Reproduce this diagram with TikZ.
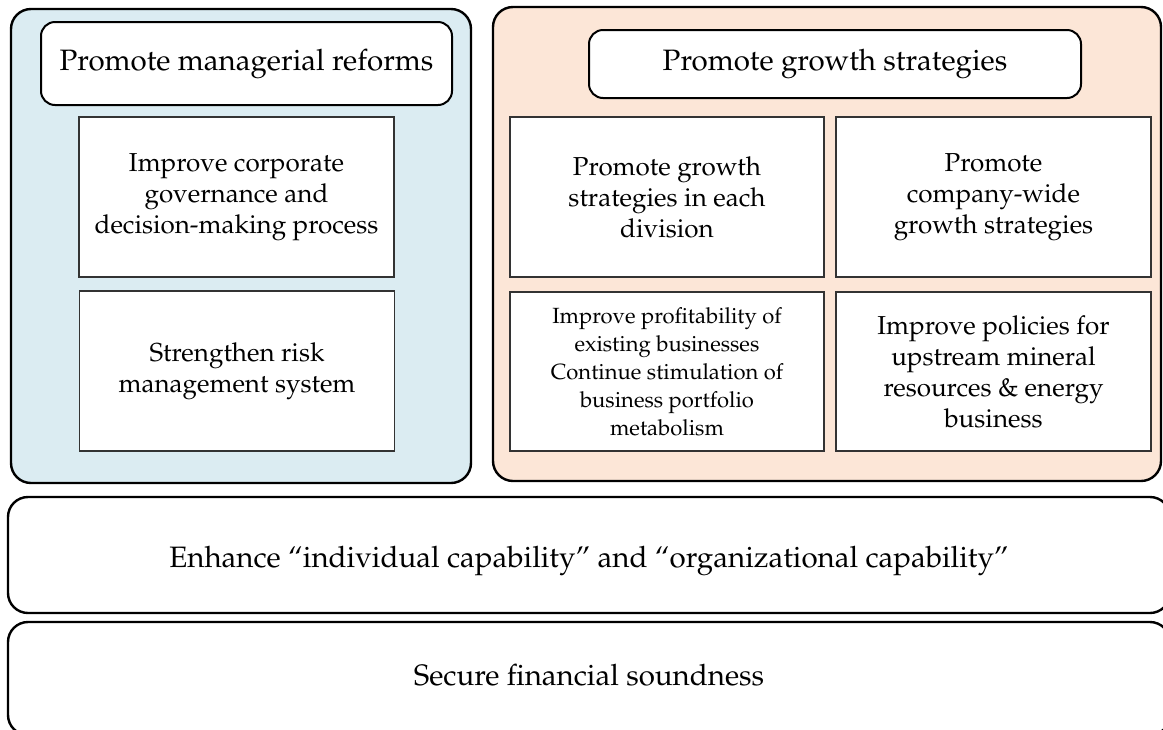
\documentclass[tikz,border=0pt]{standalone}
\usepackage[T1]{fontenc}
\renewcommand{\rmdefault}{ppl}
\definecolor{leftblue}{RGB}{219,236,242}
\definecolor{rightpeach}{RGB}{252,230,215}
\begin{document}
\begin{tikzpicture}[x=1pt,y=-1pt,
  bigbox/.style={draw=black, line width=2.4pt, rounded corners=20pt, inner sep=0pt, outer sep=0pt},
  headbox/.style={draw=black, line width=2pt, rounded corners=14pt, fill=white, inner sep=0pt, outer sep=0pt, font=\fontsize{29.5}{36}\selectfont},
  itembox/.style={draw=black!80, line width=1.2pt, fill=white, inner sep=0pt, outer sep=0pt, align=center, font=\fontsize{26}{31}\selectfont},
  smallitem/.style={itembox, font=\fontsize{22}{28}\selectfont},
  basebox/.style={draw=black, line width=2.4pt, rounded corners=20pt, fill=white, inner sep=0pt, outer sep=0pt},
  basetext/.style={inner sep=0pt, font=\fontsize{29.5}{36}\selectfont}]
\useasboundingbox (0,0) rectangle (1163,729);
% big group boxes
\node[bigbox, fill=leftblue, minimum width=460pt, minimum height=474pt] (left) at (241,246) {};
\node[bigbox, fill=rightpeach, minimum width=668pt, minimum height=474pt] (right) at (827,244) {};
% headers
\node[headbox, minimum width=411pt, minimum height=83pt] (lhead) at (246.5,63.5) {Promote managerial reforms};
\node[headbox, minimum width=492pt, minimum height=68pt] (rhead) at (835,64) {Promote growth strategies};
% left items
\node[itembox, minimum width=315pt, minimum height=160pt] (gov) at (236.5,197) {Improve corporate\\governance and\\decision-making process};
\node[itembox, minimum width=315pt, minimum height=160pt] (risk) at (237,371) {Strengthen risk\\management system};
% right items
\node[itembox, minimum width=314pt, minimum height=160pt] (div) at (667,197) {Promote growth\\strategies in each\\division};
\node[itembox, minimum width=315pt, minimum height=160pt] (cw) at (993.5,197) {Promote\\company-wide\\growth strategies};
\node[smallitem, minimum width=314pt, minimum height=159pt] (prof) at (667,371.5) {Improve profitability of\\existing businesses\\Continue stimulation of\\business portfolio\\metabolism};
\node[itembox, minimum width=315pt, minimum height=159pt] (up) at (993.5,371.5) {Improve policies for\\upstream mineral\\resources \& energy\\business};
% base boxes
\node[basebox, minimum width=1162pt, minimum height=116pt] (cap) at (589,555) {};
\node[basetext] (captext) at (589,561) {Enhance ``individual capability'' and ``organizational capability''};
\node[basebox, minimum width=1162pt, minimum height=113pt] (fin) at (589,678.5) {};
\node[basetext] (fintext) at (589,675.5) {Secure financial soundness};
\end{tikzpicture}
\end{document}
